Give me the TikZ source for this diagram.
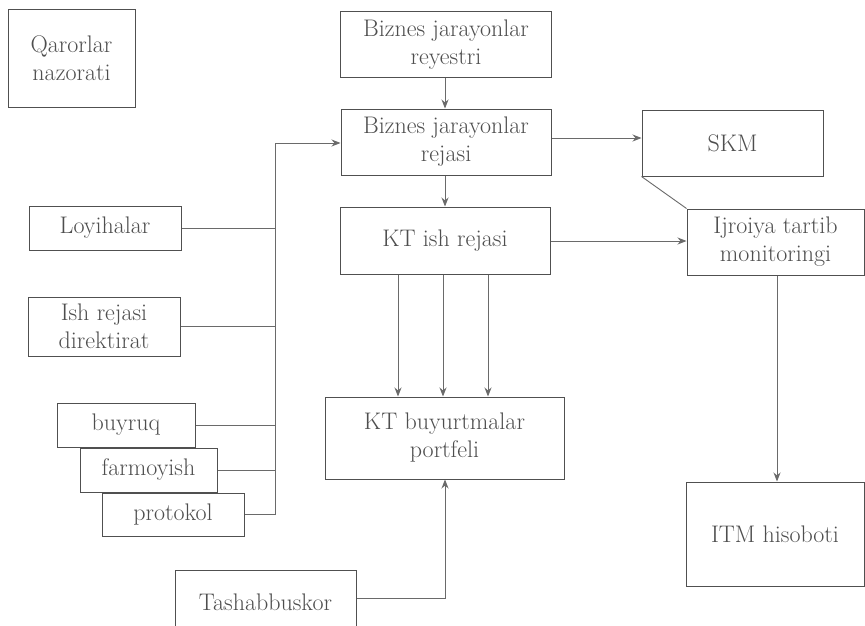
\documentclass[tikz,border=0pt]{standalone}
\usetikzlibrary{arrows.meta,calc}
\definecolor{txt}{HTML}{4E4E4E}
\definecolor{edge}{HTML}{505050}
\definecolor{wire}{HTML}{6A6A6A}
\begin{document}
\begin{tikzpicture}[x=1pt,y=-1pt,
  box/.style={draw=edge,line width=1pt,text=txt,align=center,inner sep=0pt,
    font=\fontsize{24}{28}\selectfont},
  wireline/.style={draw=wire,line width=0.9pt},
  arr/.style={wireline,-{Stealth[length=9pt,width=7pt]}}]
\useasboundingbox[fill=white] (0,0) rectangle (865,626);
% nodes
\node[box,minimum width=127pt,minimum height=97pt] (q) at (71.5,58.5) {Qarorlar\\nazorati};
\node[box,minimum width=211pt,minimum height=66pt] (reg) at (446,45) {Biznes jarayonlar\\reyestri};
\node[box,minimum width=210pt,minimum height=66pt] (rej) at (446,142) {Biznes jarayonlar\\rejasi};
\node[box,minimum width=210pt,minimum height=67pt] (kti) at (445,240.5) {KT ish rejasi};
\node[box,minimum width=181pt,minimum height=66pt] (skm) at (732.5,143) {SKM};
\node[box,minimum width=177pt,minimum height=66pt] (ijr) at (775.5,242) {Ijroiya tartib\\monitoringi};
\node[box,minimum width=178pt,minimum height=104pt] (itm) at (775,534) {ITM hisoboti};
\node[box,minimum width=152pt,minimum height=44pt] (loy) at (105,228) {Loyihalar};
\node[box,minimum width=152pt,minimum height=59pt] (ish) at (104,326.5) {Ish rejasi\\direktirat};
\node[box,minimum width=138pt,minimum height=44pt] (buy) at (126,425) {buyruq};
\node[box,minimum width=137pt,minimum height=44pt] (far) at (148.5,470) {farmoyish};
\node[box,minimum width=142pt,minimum height=43pt] (pro) at (173,514.5) {protokol};
\node[box,minimum width=239pt,minimum height=82pt] (kbp) at (444.5,438) {KT buyurtmalar\\portfeli};
\node[box,minimum width=181pt,minimum height=64pt] (tas) at (265.5,602) {Tashabbuskor};
% coordinates
\coordinate (bustop) at (275,143);
\coordinate (busbot) at (275,515);
\coordinate (tascorner) at (445,598);
% connectors
\draw[arr] (reg.south -| 445,0) -- (rej.north -| 445,0);
\draw[arr] (rej.south -| 445,0) -- (kti.north -| 445,0);
\draw[arr] (rej.east |- 0,138) -- (skm.west |- 0,138);
\draw[arr] (kti.east |- 0,241) -- (ijr.west |- 0,241);
\draw[wireline] (skm.south west) -- (ijr.north west);
\draw[arr] (ijr.south -| 777,0) -- (itm.north -| 777,0);
\draw[arr] (kti.south -| 398,0) -- (kbp.north -| 398,0);
\draw[arr] (kti.south -| 443,0) -- (kbp.north -| 443,0);
\draw[arr] (kti.south -| 488,0) -- (kbp.north -| 488,0);
\draw[arr] (tas.east |- tascorner) -- (tascorner) -- (kbp.south -| tascorner);
\draw[wireline] (busbot) -- (bustop);
\draw[arr] (bustop) -- (bustop -| rej.west);
\draw[wireline] (loy.east) -- (loy.east -| bustop);
\draw[wireline] (ish.east) -- (ish.east -| bustop);
\draw[wireline] (buy.east) -- (buy.east -| bustop);
\draw[wireline] (far.east) -- (far.east -| bustop);
\draw[wireline] (pro.east) -- (pro.east -| bustop);
\end{tikzpicture}
\end{document}
